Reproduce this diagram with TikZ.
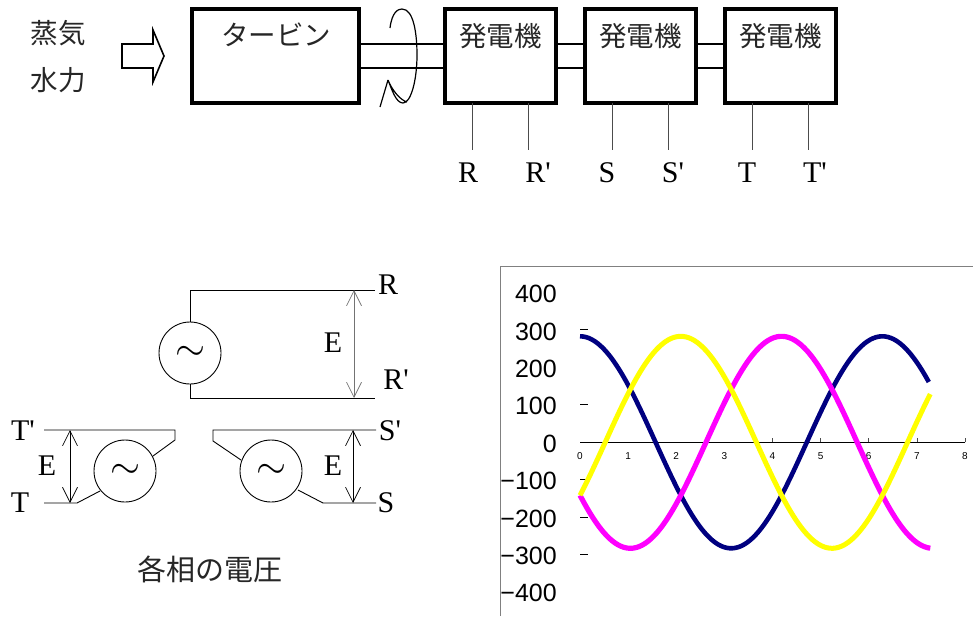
\documentclass[tikz,border=0pt]{standalone}
\usepackage{graphicx}
\usepackage{fontspec}
\newfontfamily\serifl{Liberation Serif}
\newfontfamily\jpfont{Noto Sans CJK JP}
\newfontfamily\axfont{Liberation Sans}
\usetikzlibrary{arrows.meta}
\definecolor{navyc}{RGB}{0,0,128}
\definecolor{magc}{RGB}{255,0,255}
\definecolor{yelc}{RGB}{255,255,0}
\newcommand{\acsign}{\scalebox{1.55}{$\sim$}}
\tikzset{
  heavybox/.style={draw,line width=3.2pt,minimum height=94pt,inner sep=0pt,text height=0pt},
  jp/.style={font=\jpfont\fontsize{27.5}{28}\selectfont,inner sep=0pt,text=black!85},
  letter/.style={font=\serifl\fontsize{30}{30}\selectfont,inner sep=0pt},
  shaftline/.style={line width=1.5pt},
  leadline/.style={line width=0.7pt,draw=black!70},
  wire/.style={line width=0.9pt},
  source/.style={draw,circle,line width=0.9pt,minimum size=62pt,inner sep=0pt,font=\fontsize{24}{24}\selectfont},
  volt/.style={line width=0.8pt,{Straight Barb[length=15pt,width=15pt,line width=0.7pt]}-{Straight Barb[length=15pt,width=15pt,line width=0.7pt]}},
  ylab/.style={font=\axfont\fontsize{25}{25}\selectfont,anchor=east,inner sep=0pt},
  xlab/.style={font=\axfont\fontsize{10}{10}\selectfont,inner sep=0pt},
  curve/.style={line width=4.6pt,line join=round}
}
\begin{document}
\begin{tikzpicture}[x=1pt,y=-1pt]
\useasboundingbox (0,0) rectangle (973,616);
% top row
\node[jp] (steam) at (58,33) {蒸気};
\node[jp] (water) at (58,80) {水力};
\draw[line width=1.6pt,fill=white] (122,44) -- (153,44) -- (153,30) -- (164,56) -- (153,82) -- (153,68) -- (122,68) -- cycle;
\node[heavybox,minimum width=167pt] (turbine) at (275.5,56) {};
\node[heavybox,minimum width=111pt] (g1) at (500.5,56) {};
\node[heavybox,minimum width=111pt] (g2) at (640.5,56) {};
\node[heavybox,minimum width=111pt] (g3) at (780.5,56) {};
\node[jp] at (276,35) {タービン};
\node[jp] at (500.5,36) {発電機};
\node[jp] at (640.5,36) {発電機};
\node[jp] at (780.5,36) {発電機};
\foreach \a/\b in {turbine/g1,g1/g2,g2/g3}{
  \draw[shaftline] (\a.east |- 0,44) -- (\b.west |- 0,44);
  \draw[shaftline] (\a.east |- 0,68) -- (\b.west |- 0,68);
}
\draw[line width=1.2pt] (390,28) .. controls (392,12) and (398,9) .. (402,9)
  .. controls (414,9) and (417,35) .. (417,55)
  .. controls (417,80) and (411,103) .. (403,103)
  .. controls (396,103) and (392,90) .. (388,80)
  .. controls (392,90) and (400,100) .. (407,102);
\draw[line width=1.2pt] (388,80) -- (380,107);
\foreach \n/\x/\lx/\t in {r/472/468/R,rp/528/538/R',s/612/607/S,sp/668/673/S',t/752/747/T,tp/808/815/T'}{
  \node[letter] (\n) at (\lx,173) {\t};
  \coordinate (\n end) at (\x,150);
  \coordinate (\n top) at (\x,103);
  \draw[leadline] (\n top) -- (\n end);
}
% R source
\node[source] (sr) at (190,353) {\acsign};
\coordinate (rtop) at (375,290);
\coordinate (rbot) at (375,398);
\draw[wire] (sr.north) -- (sr.north |- rtop) -- (rtop);
\draw[wire] (sr.south) -- (sr.south |- rbot) -- (rbot);
\coordinate (ra) at (354,290);
\coordinate (rb) at (354,398);
\draw[volt,draw=black!55] (ra) -- (rb);
\node[letter] at (333,343) {E};
\node[letter] at (388,285) {R};
\node[letter] at (396,380) {R'};
% T source
\node[source] (st) at (125,471) {\acsign};
\coordinate (t1) at (44,430);
\coordinate (t2) at (175,430);
\coordinate (t3) at (175,440);
\coordinate (t4) at (153,456);
\coordinate (t5) at (100,491);
\coordinate (t6) at (77,503);
\coordinate (t7) at (44,503);
\draw[wire] (t1) -- (t2) -- (t3) -- (t4);
\draw[wire] (t5) -- (t6) -- (t7);
\coordinate (ta) at (70,430);
\coordinate (tb) at (70,503);
\draw[volt] (ta) -- (tb);
\node[letter] at (47,466) {E};
\node[letter] at (23,431) {T'};
\node[letter] at (20,503) {T};
% S source
\node[source] (ss) at (271,471) {\acsign};
\coordinate (s1) at (376,430);
\coordinate (s2) at (213,430);
\coordinate (s3) at (213,441);
\coordinate (s4) at (241,460);
\coordinate (s5) at (298,490);
\coordinate (s6) at (323,503);
\coordinate (s7) at (376,503);
\draw[wire] (s1) -- (s2) -- (s3) -- (s4);
\draw[wire] (s5) -- (s6) -- (s7);
\coordinate (sa) at (353,430);
\coordinate (sb) at (353,503);
\draw[volt] (sa) -- (sb);
\node[letter] at (333,466) {E};
\node[letter] at (390,431) {S'};
\node[letter] at (386,503) {S};
\node[jp,font=\jpfont\fontsize{29}{29}\selectfont] at (210,569) {各相の電圧};
% chart
\draw[line width=0.8pt,draw=black!50] (500.5,616) -- (500.5,266.5) -- (973,266.5);
\foreach \v/\y in {400/294,300/332,200/369,100/406,0/444,−100/481,−200/518.5,−300/556,−400/593}{
  \node[ylab] at (557,\y) {\v};
}
\foreach \y in {329.3,404.5,479.5,517,554}{ \draw[line width=0.7pt] (580,\y) -- (588,\y); }
\draw[line width=0.8pt] (580,442.3) -- (965,442.3);
\foreach \i in {4,...,8}{ \draw[line width=0.6pt,draw=black!70] ({580+48.12*\i},442.3) -- ({580+48.12*\i},438); }
\foreach \i in {0,...,8}{ \node[xlab] at ({580+48.12*\i},456) {\i}; }
\draw[curve,navyc] plot[domain=0:7.25,samples=120,smooth] ({580+48.12*\x},{442.3-106*cos(\x r)});
\draw[curve,magc,line width=5.2pt] plot[domain=0:7.28,samples=120,smooth] ({580+48.12*\x},{442.3-106*cos((\x-4.18879) r)});
\draw[curve,yelc,line width=5pt] plot[domain=0:7.28,samples=120,smooth] ({580+48.12*\x},{442.3-106*cos((\x-2.0944) r)});
\end{tikzpicture}
\end{document}
